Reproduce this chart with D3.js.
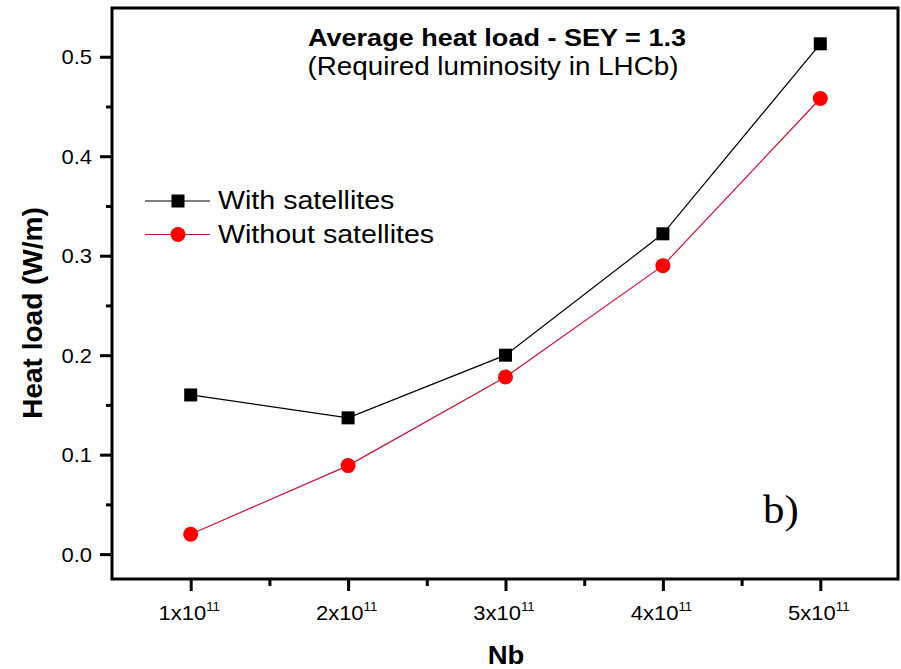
<!DOCTYPE html>
<html><head><meta charset="utf-8">
<script src="https://cdn.jsdelivr.net/npm/d3@7"></script>
<style>
body{margin:0;background:#fff}
text{font-family:"Liberation Sans",Arial,sans-serif;fill:#000}
</style>
</head><body>
<svg id="chart" width="901" height="669"></svg>
<script>
// Bunch intensity Nb (units of 1e11) and average heat load (W/m)
const nbValues = [1, 2, 3, 4, 5];
const withSatellites = [0.160, 0.137, 0.200, 0.322, 0.513];
const withoutSatellites = [0.020, 0.089, 0.178, 0.290, 0.458];
const yTickValues = [0, 0.1, 0.2, 0.3, 0.4, 0.5];
const yMinorValues = [0.05, 0.15, 0.25, 0.35, 0.45];
const xMinorValues = [1.5, 2.5, 3.5, 4.5];
const seriesNames = ["With satellites", "Without satellites"];
const titleLines = ["Average heat load - SEY = 1.3", "(Required luminosity in LHCb)"];
const xTitle = "Nb";
const yTitle = "Heat load (W/m)";
const panelTag = "b)";

const svg = d3.select("#chart");
const SX = 1.1; // horizontal stretch of the glyphs

const x = d3.scaleLinear().domain([0.5, 5.5]).range([112, 899]);
const y = d3.scaleLinear().domain([-0.025, 0.549]).range([579, 8]);

const [x0, x1] = x.range();
const [yb, yt] = y.range();

// Axes: major ticks with labels, minor ticks without
const gy = svg.append("g").attr("transform", `translate(${x0},0)`)
  .call(d3.axisLeft(y).tickValues(yTickValues).tickSize(12).tickSizeOuter(0)
    .tickFormat(d3.format(".1f")));
gy.selectAll("text")
  .attr("x", null).attr("dy", "0.35em")
  .attr("text-anchor", "end")
  .attr("transform", `translate(-20,0) scale(${SX},1)`)
  .style("font-size", "20px");
svg.append("g").attr("transform", `translate(${x0},0)`)
  .call(d3.axisLeft(y).tickValues(yMinorValues).tickSize(6).tickSizeOuter(0).tickFormat(""));

const gx = svg.append("g").attr("transform", `translate(0,${yb})`)
  .call(d3.axisBottom(x).tickValues(nbValues).tickSize(12).tickSizeOuter(0).tickFormat(""));
gx.selectAll(".tick text").remove();
gx.selectAll(".tick").append("text")
  .attr("text-anchor", "middle")
  .attr("transform", `translate(-2,41) scale(${SX},1)`)
  .style("font-size", "20px")
  .each(function(d) {
    const t = d3.select(this);
    t.append("tspan").text(d + "x10");
    t.append("tspan").attr("dy", -9).style("font-size", "12px").text("11");
  });
svg.append("g").attr("transform", `translate(0,${yb})`)
  .call(d3.axisBottom(x).tickValues(xMinorValues).tickSize(7).tickSizeOuter(0).tickFormat(""));

svg.selectAll(".domain").remove();
svg.selectAll(".tick line").attr("stroke", "#000").attr("stroke-width", 3);

// Frame
svg.append("rect")
  .attr("x", x0).attr("y", yt).attr("width", x1 - x0 - 1).attr("height", yb - yt)
  .attr("fill", "none").attr("stroke", "#000").attr("stroke-width", 3);

// Series
const series = [
  {name: seriesNames[0], values: withSatellites, line: "#000", fill: "#000", shape: "square"},
  {name: seriesNames[1], values: withoutSatellites, line: "#cc1133", fill: "#ff0000", shape: "circle"}
];
const lineGen = d3.line().x(d => x(d[0])).y(d => y(d[1]));

function drawMarker(g, shape, cx, cy, fill) {
  if (shape === "square") {
    g.append("rect").attr("x", cx - 6.5).attr("y", cy - 6.5)
      .attr("width", 13).attr("height", 13).attr("fill", fill);
  } else {
    g.append("circle").attr("cx", cx).attr("cy", cy).attr("r", 7.5).attr("fill", fill);
  }
}

series.forEach(s => {
  const pts = nbValues.map((n, i) => [n, s.values[i]]);
  svg.append("path").datum(pts).attr("d", lineGen)
    .attr("fill", "none").attr("stroke", s.line).attr("stroke-width", 1.2);
  const g = svg.append("g");
  pts.forEach(p => drawMarker(g, s.shape, x(p[0]), y(p[1]), s.fill));
});

// Legend
series.forEach((s, i) => {
  const cy = 201 + i * 33.5;
  const g = svg.append("g");
  g.append("line").attr("x1", 145).attr("x2", 210).attr("y1", cy).attr("y2", cy)
    .attr("stroke", s.line).attr("stroke-width", 1.2);
  drawMarker(g, s.shape, 178, cy, s.fill);
  g.append("text").attr("transform", `translate(218,${cy + 8}) scale(${SX},1)`)
    .style("font-size", "26px").text(s.name);
});

// Titles
svg.append("text").attr("transform", `translate(497,46) scale(${SX},1)`)
  .attr("text-anchor", "middle").style("font-size", "24.6px").style("font-weight", "bold")
  .text(titleLines[0]);
svg.append("text").attr("transform", `translate(493,75) scale(${SX},1)`)
  .attr("text-anchor", "middle").style("font-size", "25.3px")
  .text(titleLines[1]);

svg.append("text").attr("transform", `translate(506,664) scale(${SX},1)`)
  .attr("text-anchor", "middle").style("font-size", "25px").style("font-weight", "bold")
  .text(xTitle);

svg.append("text").attr("transform", `translate(42,313) rotate(-90)`)
  .attr("text-anchor", "middle").style("font-size", "28px").style("font-weight", "bold")
  .text(yTitle);

svg.append("text").attr("transform", `translate(763,523) scale(${SX},1)`)
  .style("font-family", "'Liberation Serif','Times New Roman',serif").style("font-size", "39px")
  .text(panelTag);
</script>
</body></html>
